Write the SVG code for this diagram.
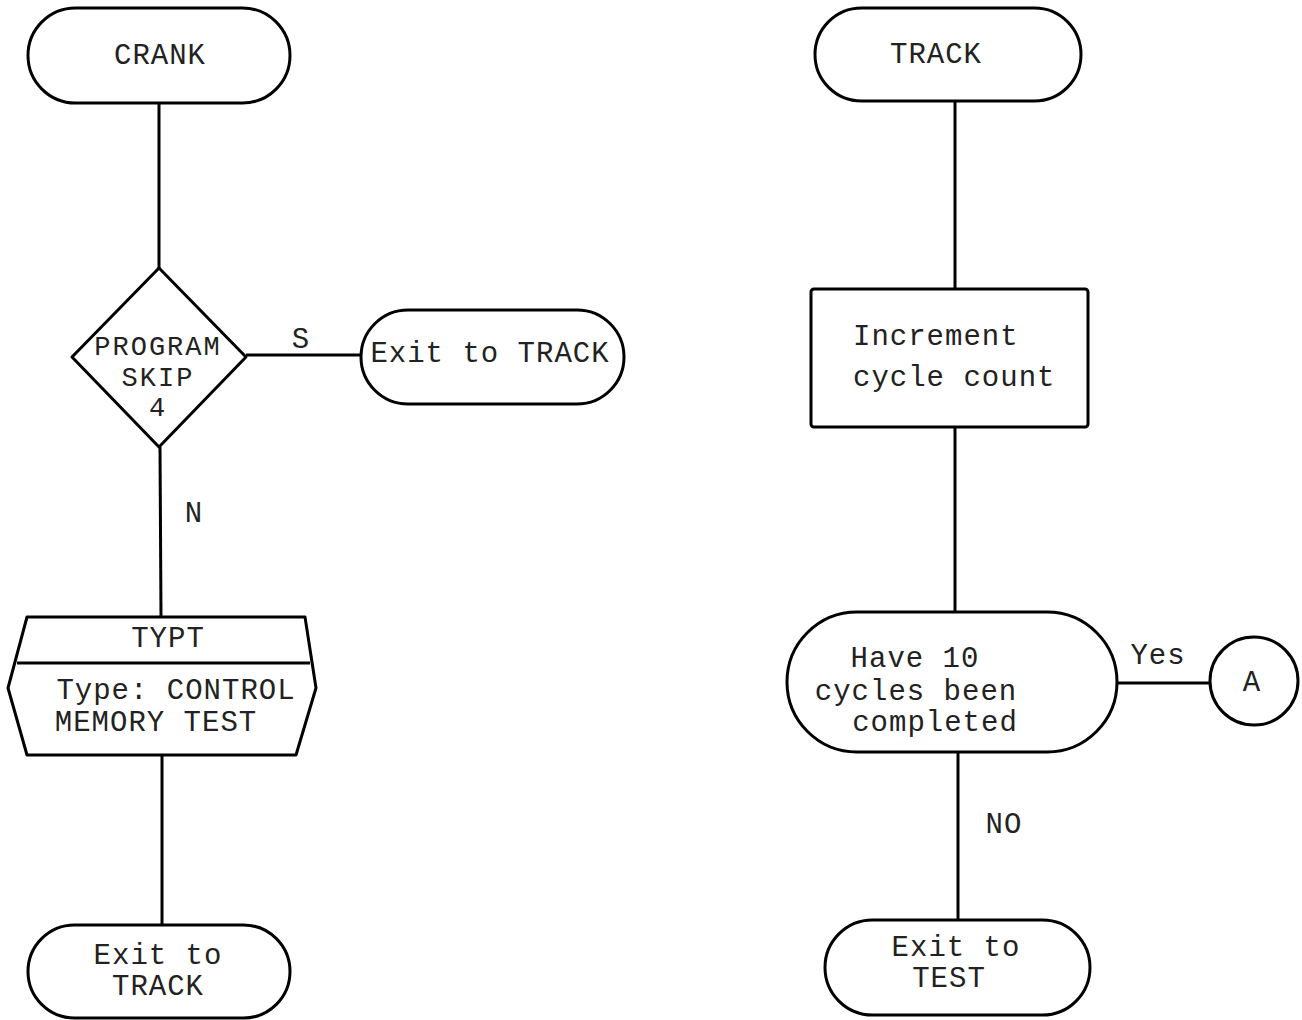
<svg xmlns="http://www.w3.org/2000/svg" width="1302" height="1020" viewBox="0 0 1302 1020">
<style>
.s{fill:#fff;stroke:#000;stroke-width:3;stroke-linejoin:round}
.c{fill:none;stroke:#000;stroke-width:3}
text{font-family:"Liberation Mono","DejaVu Sans Mono",monospace;font-size:29px;letter-spacing:1px;fill:#222}
.m{text-anchor:middle}
.d{font-size:27px;letter-spacing:2px}
</style>
<rect width="1302" height="1020" fill="#fff"/>
<g id="connectors">
<line class="c" x1="159" y1="103" x2="159" y2="268"/>
<line class="c" x1="246" y1="355" x2="362" y2="355"/>
<line class="c" x1="160" y1="447" x2="161" y2="616"/>
<line class="c" x1="162" y1="755" x2="162" y2="925"/>
<line class="c" x1="955" y1="101" x2="955" y2="290"/>
<line class="c" x1="955" y1="427" x2="955" y2="612"/>
<line class="c" x1="1117" y1="683" x2="1210" y2="683"/>
<line class="c" x1="958" y1="752" x2="958" y2="920"/>
<text x="301" y="348" class="m">S</text>
<text x="194" y="522" class="m">N</text>
<text x="1158" y="664" class="m">Yes</text>
<text x="1004" y="833" class="m">NO</text>
</g>
<g id="crank">
<rect class="s" x="28" y="8" width="262" height="95" rx="47.5"/>
<text x="160" y="64" class="m">CRANK</text>
</g>
<g id="skip">
<polygon class="s" points="159,268 246,357 159,447 72,357"/>
<text x="158" y="355" class="m d">PROGRAM</text>
<text x="158" y="386" class="m d">SKIP</text>
<text x="158" y="416" class="m d">4</text>
</g>
<g id="exit-track-1">
<rect class="s" x="361" y="310" width="263" height="94" rx="47"/>
<text x="490" y="362" class="m">Exit to TRACK</text>
</g>
<g id="typt">
<polygon class="s" points="27,617 305,617 316,688 296,755 27,755 8,688"/>
<line class="c" x1="17" y1="663" x2="310" y2="663"/>
<text x="168" y="647" class="m">TYPT</text>
<text x="176" y="699" class="m">Type: CONTROL</text>
<text x="156" y="731" class="m">MEMORY TEST</text>
</g>
<g id="exit-track-2">
<rect class="s" x="28" y="925" width="262" height="93" rx="46.5"/>
<text x="158" y="964" class="m">Exit to</text>
<text x="158" y="995" class="m">TRACK</text>
</g>
<g id="track">
<rect class="s" x="815" y="8" width="266" height="93" rx="46.5"/>
<text x="936" y="63" class="m">TRACK</text>
</g>
<g id="increment">
<rect class="s" x="811" y="289" width="277" height="138" rx="3"/>
<text x="853" y="345">Increment</text>
<text x="853" y="386">cycle count</text>
</g>
<g id="have10">
<rect class="s" x="787" y="612" width="330" height="140" rx="70"/>
<text x="915" y="667" class="m">Have 10</text>
<text x="916" y="700" class="m">cycles been</text>
<text x="935" y="731" class="m">completed</text>
</g>
<g id="a">
<circle class="s" cx="1254" cy="681" r="44"/>
<text x="1252" y="691" class="m">A</text>
</g>
<g id="exit-test">
<rect class="s" x="825" y="920" width="265" height="95" rx="47.5"/>
<text x="956" y="956" class="m">Exit to</text>
<text x="949" y="987" class="m">TEST</text>
</g>
</svg>
